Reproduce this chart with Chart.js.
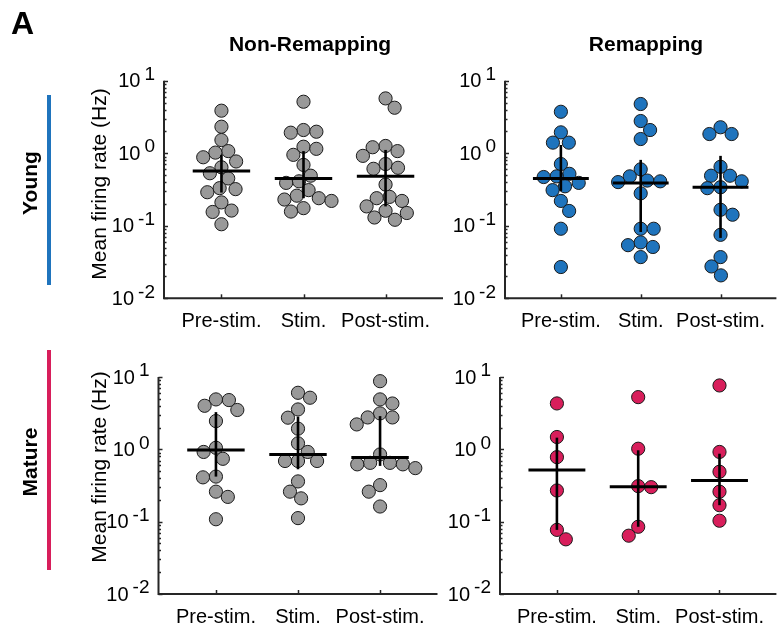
<!DOCTYPE html>
<html>
<head>
<meta charset="utf-8">
<script src="https://cdn.jsdelivr.net/npm/chart.js@4.4.1/dist/chart.umd.min.js"></script>
<style>
  html, body { margin: 0; padding: 0; background: #fff; }
  #fig { position: relative; width: 784px; height: 631px; overflow: hidden; }
  #fig canvas { position: absolute; left: 0; top: 0; }
</style>
</head>
<body>
<div id="fig">
  <canvas id="youngNon" width="784" height="631"></canvas>
  <canvas id="youngRemap" width="784" height="631"></canvas>
  <canvas id="matureNon" width="784" height="631"></canvas>
  <canvas id="matureRemap" width="784" height="631"></canvas>
</div>
<script>
// ---- categories and axis labels ----
const phases = ['Pre-stim.', 'Stim.', 'Post-stim.'];
const decadeExps = [1, 0, -1, -2];           // y tick labels 10^1 ... 10^-2
const columnTitles = ['Non-Remapping', 'Remapping'];
const rowTitles = ['Young', 'Mature'];
const yTitle = 'Mean firing rate (Hz)';

// ---- mean firing rates (Hz), one array per phase ----
// Young, non-remapping
const youngNonPre  = [3.86, 2.32, 1.52, 1.07, 1.02, 0.88, 0.77, 0.64, 0.53, 0.45, 0.33, 0.32, 0.29, 0.21, 0.162, 0.155, 0.105];
const youngNonStim = [5.13, 2.09, 1.98, 1.92, 1.23, 1.15, 0.95, 0.69, 0.49, 0.41, 0.39, 0.31, 0.26, 0.24, 0.23, 0.22, 0.175, 0.157];
const youngNonPost = [5.7, 4.24, 1.26, 1.21, 1.07, 0.92, 0.71, 0.63, 0.61, 0.37, 0.25, 0.24, 0.22, 0.185, 0.161, 0.15, 0.13, 0.121];
const youngNonMedian = [0.57, 0.45, 0.48];
const youngNonLow    = [0.287, 0.24, 0.185];
const youngNonHigh   = [0.95, 1.07, 1.11];

// Young, remapping
const youngRemapPre  = [3.73, 1.94, 1.40, 1.40, 0.71, 0.52, 0.48, 0.47, 0.39, 0.35, 0.31, 0.22, 0.16, 0.091, 0.027];
const youngRemapStim = [4.77, 2.78, 2.09, 1.57, 0.60, 0.48, 0.42, 0.41, 0.40, 0.28, 0.091, 0.091, 0.059, 0.054, 0.051, 0.037];
const youngRemapPost = [2.28, 1.84, 1.84, 0.65, 0.49, 0.49, 0.41, 0.34, 0.33, 0.166, 0.142, 0.075, 0.037, 0.0275, 0.0207];
const youngRemapMedian = [0.45, 0.39, 0.34];
const youngRemapLow    = [0.30, 0.082, 0.068];
const youngRemapHigh   = [1.30, 0.81, 0.92];

// Mature, non-remapping
const matureNonPre  = [4.9, 4.8, 4.0, 3.5, 2.46, 1.05, 0.92, 0.74, 0.42, 0.41, 0.26, 0.22, 0.108];
const matureNonStim = [6.05, 5.17, 3.56, 2.74, 1.93, 1.21, 0.92, 0.69, 0.69, 0.69, 0.36, 0.26, 0.21, 0.112];
const matureNonPost = [8.75, 4.9, 4.3, 3.14, 2.76, 2.76, 2.21, 0.85, 0.65, 0.65, 0.62, 0.62, 0.55, 0.32, 0.26, 0.162];
const matureNonMedian = [0.98, 0.85, 0.77];
const matureNonLow    = [0.42, 0.53, 0.59];
const matureNonHigh   = [3.27, 2.83, 2.88];

// Mature, remapping
const matureRemapPre  = [4.31, 1.48, 0.78, 0.27, 0.077, 0.057];
const matureRemapStim = [5.27, 1.02, 0.31, 0.30, 0.085, 0.064];
const matureRemapPost = [7.64, 0.92, 0.49, 0.26, 0.169, 0.103];
const matureRemapMedian = [0.52, 0.305, 0.37];
const matureRemapLow    = [0.077, 0.085, 0.169];
const matureRemapHigh   = [1.45, 0.97, 0.87];

// ---- styling ----
const GREY = '#999999', BLUE = '#1F74BD', PINK = '#D81E5B';
const AXIS = '#262626';
const FONT = '"Liberation Sans", Arial, Helvetica, sans-serif';
const W = 784, H = 631;

// draws the open-box axes, inward ticks and text for one panel
const panelAxes = {
  id: 'panelAxes',
  afterDraw(chart, args, opts) {
    const { ctx, chartArea: a, scales: { x, y } } = chart;
    ctx.save();
    ctx.strokeStyle = AXIS;
    ctx.lineWidth = 2;
    ctx.beginPath();
    ctx.moveTo(a.left, a.top);
    ctx.lineTo(a.left, a.bottom);
    ctx.lineTo(a.right, a.bottom);
    ctx.stroke();

    // log ticks: majors at decades, minors at 2..9
    ctx.lineWidth = 1.5;
    for (let e = -2; e <= 1; e++) {
      const steps = e === 1 ? [1] : [1, 2, 3, 4, 5, 6, 7, 8, 9];
      steps.forEach(k => {
        const v = k * Math.pow(10, e);
        const py = Math.round(y.getPixelForValue(v)) + 0.5;
        const len = k === 1 ? 4 : 2.5;
        ctx.beginPath();
        ctx.moveTo(a.left, py);
        ctx.lineTo(a.left + len, py);
        ctx.stroke();
      });
    }
    // category ticks
    phases.forEach((p, i) => {
      const px = Math.round(x.getPixelForValue(i + 1)) + 0.5;
      ctx.beginPath();
      ctx.moveTo(px, a.bottom);
      ctx.lineTo(px, a.bottom - 4);
      ctx.stroke();
    });

    // decade labels, 10 with a raised exponent
    ctx.fillStyle = '#000';
    ctx.textAlign = 'right';
    ctx.textBaseline = 'middle';
    decadeExps.forEach(e => {
      const py = y.getPixelForValue(Math.pow(10, e));
      const expStr = String(e);
      ctx.font = '19px ' + FONT;
      const right = a.left - 9;
      ctx.fillText(expStr, right, py - 6);
      const ew = ctx.measureText(expStr).width;
      ctx.font = '20px ' + FONT;
      ctx.fillText('10', right - ew - 4, py + 1);
    });

    // phase labels
    ctx.textAlign = 'center';
    ctx.textBaseline = 'alphabetic';
    ctx.font = '20px ' + FONT;
    phases.forEach((p, i) => {
      ctx.fillText(p, x.getPixelForValue(i + 1), a.bottom + 29);
    });

    // y axis title on the left column
    if (opts.yTitle) {
      ctx.save();
      ctx.translate(100, opts.yTitleY);
      ctx.rotate(-Math.PI / 2);
      ctx.textAlign = 'center';
      ctx.textBaseline = 'middle';
      ctx.font = '21px ' + FONT;
      ctx.fillText(yTitle, 0, 0);
      ctx.restore();
    }

    // column title
    if (opts.colTitle) {
      ctx.font = 'bold 21px ' + FONT;
      ctx.textAlign = 'center';
      ctx.fillText(opts.colTitle, opts.colTitleX, 51);
    }

    // row label with coloured bar
    if (opts.rowTitle) {
      ctx.fillStyle = opts.rowColor;
      ctx.fillRect(47, opts.barTop, 4, opts.barBottom - opts.barTop);
      ctx.save();
      ctx.translate(31, opts.rowY);
      ctx.rotate(-Math.PI / 2);
      ctx.fillStyle = '#000';
      ctx.font = 'bold 21px ' + FONT;
      ctx.textAlign = 'center';
      ctx.textBaseline = 'middle';
      ctx.fillText(opts.rowTitle, 0, 0);
      ctx.restore();
    }

    // panel letter
    if (opts.letter) {
      ctx.fillStyle = '#000';
      ctx.font = 'bold 32px ' + FONT;
      ctx.textAlign = 'left';
      ctx.textBaseline = 'alphabetic';
      ctx.fillText(opts.letter, 11, 34);
    }
    ctx.restore();
  }
};

function makePanel(id, groups, medians, lows, highs, color, area, extra) {
  const points = [];
  groups.forEach((vals, gi) => vals.forEach(v => points.push({ x: gi + 1, y: v })));
  const datasets = [{
    type: 'scatter',
    data: points,
    backgroundColor: color,
    borderColor: '#1a1a1a',
    borderWidth: 1,
    pointRadius: 6.6,
    pointHoverRadius: 6.6,
    order: 2,
    clip: false
  }];
  medians.forEach((m, i) => {
    const c = i + 1;
    datasets.push({
      type: 'line',
      data: [{ x: c - 0.35, y: m }, { x: c + 0.35, y: m }],
      borderColor: '#000', borderWidth: 3, pointRadius: 0, order: 0, clip: false
    });
    datasets.push({
      type: 'line',
      data: [{ x: c, y: lows[i] }, { x: c, y: highs[i] }],
      borderColor: '#000', borderWidth: 2.6, pointRadius: 0, order: 1, clip: false
    });
  });
  const chart = new Chart(document.getElementById(id), {
    data: { datasets },
    options: {
      responsive: false,
      devicePixelRatio: 1,
      animation: false,
      events: [],
      layout: { padding: { left: area.left, top: area.top, right: W - area.right, bottom: H - area.bottom } },
      plugins: { legend: { display: false }, tooltip: { enabled: false }, panelAxes: extra || {} },
      scales: {
        x: { type: 'linear', min: 0.3, max: 3.7, display: false },
        y: { type: 'logarithmic', min: 0.01, max: 10, display: false }
      }
    },
    plugins: [panelAxes]
  });
  spreadPoints(chart, groups);
  return chart;
}

// beeswarm: each marker is pushed sideways just enough to keep its neighbours apart
function spreadPoints(chart, groups) {
  const xs = chart.scales.x, ys = chart.scales.y;
  const unit = xs.getPixelForValue(1) - xs.getPixelForValue(0);
  const gap = 13;
  const out = [];
  groups.forEach((vals, gi) => {
    const placed = [];
    let side = 1;
    const idx = vals.map((v, i) => i).sort((a, b) => vals[b] - vals[a]);
    const offs = new Array(vals.length);
    idx.forEach(i => {
      const py = ys.getPixelForValue(vals[i]);
      const cands = [0];
      placed.forEach(p => {
        const dy = Math.abs(p.py - py);
        if (dy < gap) {
          const dx = Math.sqrt(gap * gap - dy * dy);
          cands.push(p.px + dx, p.px - dx);
        }
      });
      const ok = cands.filter(c => placed.every(p => (p.px - c) ** 2 + (p.py - py) ** 2 >= gap * gap - 1e-6));
      ok.sort((a, b) => {
        const d = Math.abs(a) - Math.abs(b);
        if (Math.abs(d) > 1e-6) return d;
        return side * (b - a);
      });
      const px = ok[0];
      if (Math.abs(px) > 1e-6) side = -Math.sign(px);
      placed.push({ px, py });
      offs[i] = px;
    });
    vals.forEach((v, i) => out.push({ x: gi + 1 + offs[i] / unit, y: v }));
  });
  chart.data.datasets[0].data = out;
  chart.update('none');
}

makePanel('youngNon', [youngNonPre, youngNonStim, youngNonPost], youngNonMedian, youngNonLow, youngNonHigh, GREY,
  { left: 164, right: 443, top: 80.7, bottom: 298.3 },
  { yTitle: true, yTitleY: 184, colTitle: columnTitles[0], colTitleX: 310,
    rowTitle: rowTitles[0], rowColor: BLUE, rowY: 183, barTop: 95, barBottom: 285, letter: 'A' });

makePanel('youngRemap', [youngRemapPre, youngRemapStim, youngRemapPost], youngRemapMedian, youngRemapLow, youngRemapHigh, BLUE,
  { left: 505, right: 784, top: 80.7, bottom: 298.3 },
  { colTitle: columnTitles[1], colTitleX: 646 });

makePanel('matureNon', [matureNonPre, matureNonStim, matureNonPost], matureNonMedian, matureNonLow, matureNonHigh, GREY,
  { left: 158.5, right: 437.5, top: 377, bottom: 594 },
  { yTitle: true, yTitleY: 467, rowTitle: rowTitles[1], rowColor: PINK, rowY: 462, barTop: 350, barBottom: 570 });

makePanel('matureRemap', [matureRemapPre, matureRemapStim, matureRemapPost], matureRemapMedian, matureRemapLow, matureRemapHigh, PINK,
  { left: 500, right: 779, top: 377, bottom: 594 },
  {});
</script>
</body>
</html>
